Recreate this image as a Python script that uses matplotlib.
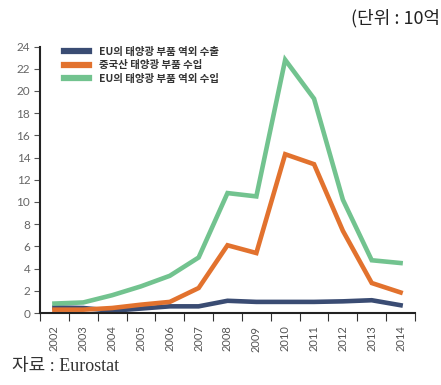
import numpy as np
import matplotlib.pyplot as plt

years = ["2002", "2003", "2004", "2005", "2006", "2007", "2008",
         "2009", "2010", "2011", "2012", "2013", "2014"]
eu_exports = [0.5, 0.45, 0.2, 0.4, 0.6, 0.6, 1.1, 1.0, 1.0, 1.0, 1.05, 1.15, 0.7]
china_imports = [0.3, 0.3, 0.45, 0.75, 1.0, 2.25, 6.1, 5.4, 14.3, 13.4, 7.4, 2.7, 1.85]
eu_imports = [0.85, 0.95, 1.6, 2.4, 3.35, 5.0, 10.8, 10.5, 22.8, 19.3, 10.2, 4.75, 4.5]
series_labels = ["EU의 태양광 부품 역외 수출", "중국산 태양광 부품 수입", "EU의 태양광 부품 역외 수입"]
series_colors = ["#3a4c73", "#e2722e", "#72c38f"]
yticks = [0, 2, 4, 6, 8, 10, 12, 14, 16, 18, 20, 22, 24]

plt.rcParams['font.family'] = ['Noto Sans CJK KR', 'DejaVu Sans']

fig = plt.figure(figsize=(4.41, 3.85), dpi=100)
ax = fig.add_axes([40 / 441, 1 - 313 / 385, 375 / 441, 266.5 / 385])

x = np.arange(len(years))
for vals, lab, col in zip([eu_exports, china_imports, eu_imports], series_labels, series_colors):
    ax.plot(x, vals, color=col, lw=3.3, label=lab, solid_joinstyle='miter')

ax.set_xlim(-0.5, len(years) - 0.5)
ax.set_ylim(0, 24)
ax.set_yticks(yticks)
ax.set_yticklabels([str(t) for t in yticks], color="#666666", fontsize=8.5, family='Lato')
ax.tick_params(axis='y', length=4, width=0.8, color="#555555", pad=3)

ax.set_xticks(x)
ax.set_xticklabels(years, rotation=90, color="#555555", fontsize=8, family='Lato')
ax.tick_params(axis='x', which='major', length=0, pad=9)
ax.set_xticks(np.arange(-0.5, len(years), 1.0), minor=True)
ax.tick_params(axis='x', which='minor', length=6, width=0.8, color="#333333", direction='out')

for s in ['top', 'right']:
    ax.spines[s].set_visible(False)
for s in ['left', 'bottom']:
    ax.spines[s].set_linewidth(1.5)
    ax.spines[s].set_color("#222222")

leg = ax.legend(loc='upper left', bbox_to_anchor=(0.04, 1.035), frameon=False,
                fontsize=7.5, handlelength=2.4, handletextpad=0.9, labelspacing=0.35)
for t in leg.get_texts():
    t.set_color("#333333")
    t.set_fontweight('bold')
for h in leg.get_lines():
    h.set_linewidth(4.5)

fig.text(440 / 441, 1 - 18 / 385, "(단위 : 10억", fontsize=13, color="#222222",
         va='center', ha='right')
fig.text(12 / 441, 1 - 367 / 385, "자료 : Eurostat", fontsize=13, color="#333333",
         va='center', ha='left', family=['Liberation Serif', 'Noto Sans CJK KR'])

fig.savefig("out.png", dpi=100)
